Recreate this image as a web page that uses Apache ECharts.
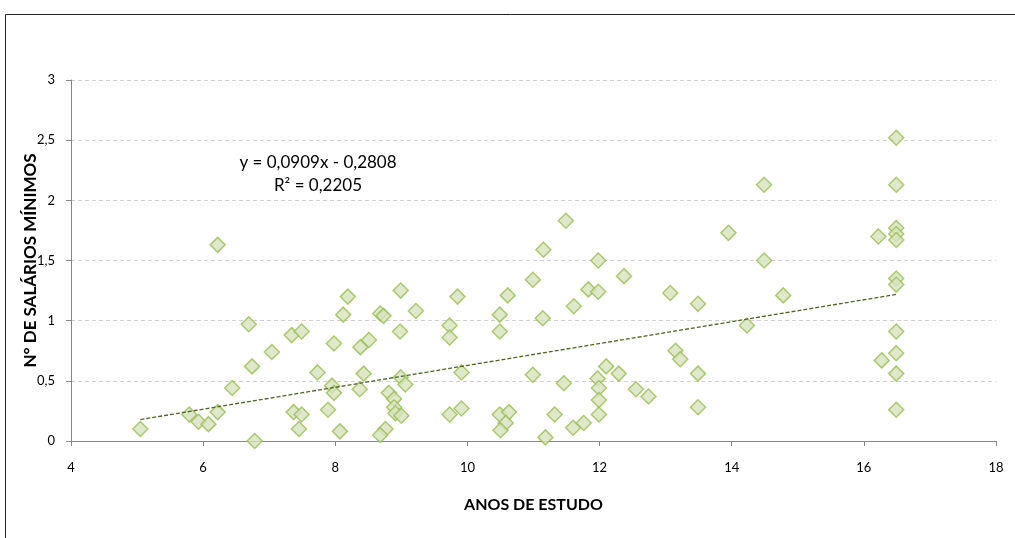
<!DOCTYPE html>
<html>
<head>
<meta charset="utf-8">
<script src="https://cdn.jsdelivr.net/npm/echarts@6/dist/echarts.min.js"></script>
<style>
  html, body { margin: 0; padding: 0; background: #fff; }
  #chart { width: 1015px; height: 538px; }
</style>
</head>
<body>
<div id="chart"></div>
<script>
// anos de estudo x nº de salários mínimos
var anosEstudo = [
    5.05, 5.79, 5.93, 6.08, 6.22, 6.22, 6.44, 6.69, 6.74, 6.78,
    7.04, 7.34, 7.49, 7.37, 7.49, 7.45, 7.73, 7.89, 7.95, 7.98,
    7.98, 8.12, 8.07, 8.19, 8.38, 8.51, 8.43, 8.37, 8.68, 8.73,
    8.99, 9.22, 8.98, 8.99, 9.06, 8.81, 8.89, 8.89, 8.91, 9.0,
    8.76, 8.68, 9.85, 9.73, 9.73, 9.91, 9.73, 9.91, 10.61, 10.49,
    10.49, 10.49, 10.63, 10.58, 10.5, 10.99, 11.14, 10.99, 11.32, 11.18,
    11.49, 11.15, 11.61, 11.83, 11.98, 12.37, 11.98, 11.46, 11.97, 12.1,
    12.29, 11.99, 11.99, 11.99, 11.6, 11.76, 12.55, 12.74, 13.07, 13.49,
    13.15, 13.22, 13.49, 13.49, 13.95, 14.49, 14.49, 14.78, 14.23, 16.22,
    16.27, 16.49, 16.49, 16.49, 16.49, 16.49, 16.49, 16.49, 16.49, 16.49,
    16.49, 16.49
];
var salarios = [
    0.10, 0.22, 0.16, 0.14, 0.24, 1.63, 0.44, 0.97, 0.62, 0.00,
    0.74, 0.88, 0.91, 0.24, 0.22, 0.10, 0.57, 0.26, 0.46, 0.40,
    0.81, 1.05, 0.08, 1.20, 0.78, 0.84, 0.56, 0.43, 1.06, 1.04,
    1.25, 1.08, 0.91, 0.53, 0.47, 0.40, 0.35, 0.28, 0.23, 0.21,
    0.10, 0.05, 1.20, 0.96, 0.86, 0.57, 0.22, 0.27, 1.21, 1.05,
    0.91, 0.22, 0.24, 0.15, 0.09, 1.34, 1.02, 0.55, 0.22, 0.03,
    1.83, 1.59, 1.12, 1.26, 1.24, 1.37, 1.50, 0.48, 0.52, 0.62,
    0.56, 0.44, 0.34, 0.22, 0.11, 0.15, 0.43, 0.37, 1.23, 1.14,
    0.75, 0.68, 0.56, 0.28, 1.73, 2.13, 1.50, 1.21, 0.96, 1.70,
    0.67, 2.52, 2.13, 1.77, 1.72, 1.67, 1.35, 1.30, 0.91, 0.73,
    0.56, 0.26
];
// linha de tendência (extremos)
var tendenciaX = [5.05, 16.5];
var tendenciaY = [0.178, 1.219];
var xTicks = [4, 6, 8, 10, 12, 14, 16, 18];
var yTicks = [0, 0.5, 1, 1.5, 2, 2.5, 3];

var pontos = anosEstudo.map(function (x, i) { return [x, salarios[i]]; });
var tendencia = tendenciaX.map(function (x, i) { return [x, tendenciaY[i]]; });

var chart = echarts.init(document.getElementById('chart'));
var fonte = 'Lato, "Open Sans", sans-serif';

var option = {
    animation: false,
    backgroundColor: '#fff',
    grid: {
        left: 71,
        right: 19,
        top: 80,
        bottom: 97
    },
    xAxis: {
        type: 'value',
        min: xTicks[0],
        max: xTicks[xTicks.length - 1],
        interval: 2,
        name: 'ANOS DE ESTUDO',
        nameLocation: 'middle',
        nameGap: 56,
        nameMoveOverlap: false,
        nameTextStyle: { fontFamily: fonte, fontWeight: 'bold', fontSize: 16, color: '#000' },
        axisLine: { lineStyle: { color: '#868686' } },
        axisTick: { show: true, inside: false, length: 5, lineStyle: { color: '#868686' } },
        axisLabel: { fontFamily: fonte, fontSize: 13, color: '#000', margin: 20 },
        splitLine: { show: false }
    },
    yAxis: {
        type: 'value',
        min: yTicks[0],
        max: yTicks[yTicks.length - 1],
        interval: 0.5,
        name: 'N° DE SALÁRIOS MÍNIMOS',
        nameLocation: 'middle',
        nameGap: 32,
        nameMoveOverlap: false,
        nameTextStyle: { fontFamily: fonte, fontWeight: 'bold', fontSize: 17, color: '#000' },
        axisLine: { show: true, lineStyle: { color: '#868686' } },
        axisTick: { show: true, length: 5, lineStyle: { color: '#868686' } },
        axisLabel: {
            fontFamily: fonte, fontSize: 13, color: '#000', margin: 16,
            formatter: function (v) { return String(v).replace('.', ','); }
        },
        splitLine: { show: true, lineStyle: { color: '#d0d0d0', type: [4, 3] } }
    },
    graphic: [
        {
            type: 'rect',
            shape: { x: 5.5, y: 14.5, width: 1100, height: 600 },
            style: { fill: 'none', stroke: '#222', lineWidth: 1 },
            silent: true
        },
        {
            type: 'text',
            x: 318, y: 174.5,
            style: {
                text: 'y = 0,0909x - 0,2808\nR² = 0,2205',
                font: '17px ' + fonte,
                fill: '#000',
                align: 'center',
                verticalAlign: 'middle',
                lineHeight: 23
            }
        }
    ],
    series: [
        {
            type: 'scatter',
            data: pontos,
            symbol: 'diamond',
            symbolSize: [15, 15],
            itemStyle: {
                color: '#d7e4bd',
                borderColor: '#9bbb59',
                borderWidth: 1.5
            },
            z: 3
        },
        {
            type: 'line',
            data: tendencia,
            symbol: 'none',
            lineStyle: { color: '#4f6228', width: 1.3, type: [4, 2] },
            z: 4
        }
    ]
};

chart.setOption(option);
</script>
</body>
</html>
